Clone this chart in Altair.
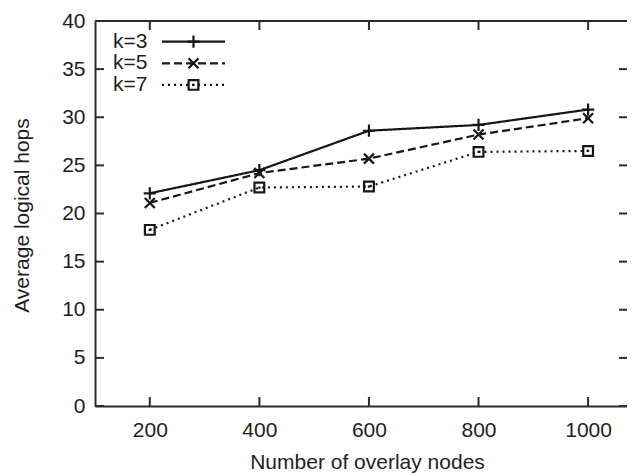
import altair as alt
import pandas as pd

# ---- data ----
nodes = [200, 400, 600, 800, 1000]
hops_k3 = [22.1, 24.5, 28.6, 29.2, 30.8]
hops_k5 = [21.1, 24.2, 25.7, 28.2, 29.9]
hops_k7 = [18.3, 22.7, 22.8, 26.4, 26.5]
series = ["k=3", "k=5", "k=7"]
x_ticks = [200, 400, 600, 800, 1000]
y_ticks = [0, 5, 10, 15, 20, 25, 30, 35, 40]

# ---- styling ----
W, H = 532, 385
X_DOMAIN = [100, 1071]
Y_DOMAIN = [0, 40]
INK = "#161616"
FRAME = "#2b2b2b"
TEXT = "#1e1e1e"
FONT = "Liberation Sans"
FS = 21

PLUS = "M-1,0L1,0M0,-1L0,1"
CROSS = "M-1,-1L1,1M1,-1L-1,1"
shapes = [PLUS, CROSS, "square"]
sizes = [150, 100, 95]
dashes = [[1, 0], [8, 4], [2, 4]]

rows = []
for name, vals in zip(series, [hops_k3, hops_k5, hops_k7]):
    for n, h in zip(nodes, vals):
        rows.append({"nodes": n, "hops": h, "k": name})
df = pd.DataFrame(rows)

xs = alt.Scale(domain=X_DOMAIN, nice=False, zero=False)
ys = alt.Scale(domain=Y_DOMAIN, nice=False, zero=True)

X_TITLE = "Number of overlay nodes"
Y_TITLE = "Average logical hops"
x_axis = alt.Axis(values=x_ticks, format="d", labelPadding=13,
                  labelFlush=False, titleX=272, titleY=56, titleBaseline="middle",
                  titleAlign="center")
y_axis = alt.Axis(values=y_ticks, format="d", labelPadding=10,
                  labelFlush=False, titleX=-73, titleY=194, titleAngle=-90,
                  titleBaseline="middle", titleAlign="center")


def X(field):
    return alt.X(field, scale=xs, axis=x_axis, title=X_TITLE)


def Y(field):
    return alt.Y(field, scale=ys, axis=y_axis, title=Y_TITLE)


layers = []

lines = alt.Chart(df).mark_line(strokeWidth=2.2, color=INK, strokeCap="butt").encode(
    x=X("nodes:Q"),
    y=Y("hops:Q"),
    strokeDash=alt.StrokeDash("k:N", scale=alt.Scale(domain=series, range=dashes), legend=None),
)
layers.append(lines)

for name, shp, sz in zip(series, shapes, sizes):
    sub = df[df["k"] == name]
    layers.append(
        alt.Chart(sub).mark_point(filled=False, strokeWidth=2.2, color=INK, opacity=1,
                                  shape=shp, size=sz).encode(
            x=X("nodes:Q"), y=Y("hops:Q"))
    )

# center dots inside the square markers
layers.append(
    alt.Chart(df[df["k"] == "k=7"]).mark_point(filled=True, color=INK, opacity=1,
                                                shape="square", size=5).encode(
        x=X("nodes:Q"), y=Y("hops:Q"))
)

# frame: top line and inward ticks
xt = pd.DataFrame({"nodes": x_ticks})
yt = pd.DataFrame({"hops": y_ticks})
layers.append(
    alt.Chart(pd.DataFrame({"hops": [Y_DOMAIN[1]]})).mark_rule(color=FRAME, strokeWidth=2).encode(
        y=Y("hops:Q"), x=alt.value(0), x2=alt.value(W))
)
layers.append(
    alt.Chart(xt).mark_rule(color=FRAME, strokeWidth=2).encode(
        x=X("nodes:Q"), y=alt.value(H), y2=alt.value(H - 9))
)
layers.append(
    alt.Chart(xt).mark_rule(color=FRAME, strokeWidth=2).encode(
        x=X("nodes:Q"), y=alt.value(0), y2=alt.value(9))
)
layers.append(
    alt.Chart(yt).mark_rule(color=FRAME, strokeWidth=2).encode(
        y=Y("hops:Q"), x=alt.value(0), x2=alt.value(9))
)
layers.append(
    alt.Chart(yt).mark_rule(color=FRAME, strokeWidth=2).encode(
        y=Y("hops:Q"), x=alt.value(W - 8), x2=alt.value(W))
)

# legend (top-left inside the plot)
for i, (name, shp, sz, dsh) in enumerate(zip(series, shapes, sizes, dashes)):
    yy = 20.7 + 21.6 * i
    ld = pd.DataFrame({"k": [name]})
    layers.append(
        alt.Chart(ld).mark_text(align="left", baseline="middle", font=FONT, fontSize=FS,
                                color=TEXT).encode(
            text="k:N", x=alt.value(18), y=alt.value(yy))
    )
    layers.append(
        alt.Chart(ld).mark_rule(color=INK, strokeWidth=2.2, strokeDash=dsh, strokeCap="butt").encode(
            x=alt.value(67), x2=alt.value(130), y=alt.value(yy))
    )
    layers.append(
        alt.Chart(ld).mark_point(filled=False, strokeWidth=2.2, color=INK, opacity=1,
                                 shape=shp, size=sz).encode(
            x=alt.value(98.5), y=alt.value(yy))
    )
    if shp == "square":
        layers.append(
            alt.Chart(ld).mark_point(filled=True, color=INK, opacity=1,
                                     shape="square", size=5).encode(
                x=alt.value(98.5), y=alt.value(yy))
        )

chart = alt.layer(*layers).properties(
    width=W, height=H,
    padding={"left": 87, "top": 13, "right": 0, "bottom": 68},
    autosize=alt.AutoSizeParams(type="none"),
    background="white",
).configure_view(stroke=None).configure_axis(
    labelFont=FONT, titleFont=FONT, labelFontSize=FS, titleFontSize=FS,
    labelColor=TEXT, titleColor=TEXT, titleFontWeight="normal",
    grid=False, ticks=False, tickSize=0, domainColor=FRAME, domainWidth=2,
)

chart.save("out.html", embed_options={"renderer": "svg", "actions": False})
